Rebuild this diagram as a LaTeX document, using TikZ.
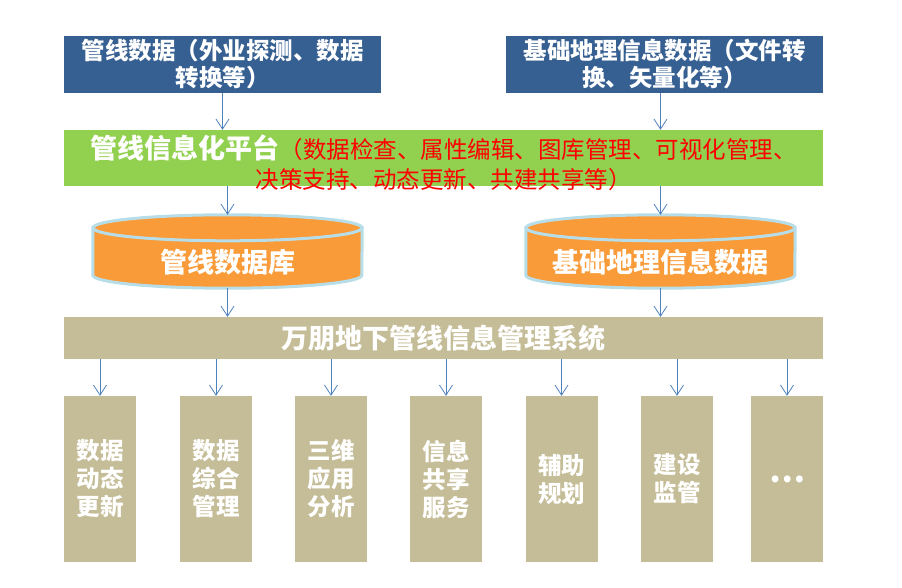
\documentclass[tikz,border=0pt]{standalone}
\usepackage{fontspec}
\setmainfont{Noto Sans CJK SC}
\usepackage{tikz}
\usetikzlibrary{arrows.meta,positioning,backgrounds}
\usepackage{xcolor}
\definecolor{srcblue}{RGB}{55,96,146}
\definecolor{platgreen}{RGB}{146,208,80}
\definecolor{systan}{RGB}{196,189,151}
\definecolor{dborange}{RGB}{249,155,56}
\definecolor{dbrim}{RGB}{183,221,232}
\definecolor{flowblue}{RGB}{79,129,189}

% cylinder drawn behind a named body node
\newcommand{\drawdb}[1]{%
  \begin{scope}[on background layer]
    \path[fill=dborange, draw=dbrim, line width=3pt]
      (#1.north west) -- ([yshift=13pt]#1.south west)
      arc[start angle=180, end angle=360, x radius=134.5pt, y radius=13pt]
      -- (#1.north east) -- cycle;
    \path[fill=dborange, draw=dbrim, line width=3pt]
      (#1.north) ellipse[x radius=134.5pt, y radius=13pt];
  \end{scope}}
% push a line down without changing its size
\newcommand{\lowerline}[1]{\raisebox{-4.5pt}[\height][\depth]{#1}}

\begin{document}
\begin{tikzpicture}[x=1pt, y=1pt,
    src/.style={fill=srcblue, text=white, minimum width=317pt, minimum height=57pt, align=center, inner sep=0pt, font=\fontsize{23.5}{27}\selectfont\bfseries},
    bar/.style={fill=#1, minimum width=759pt, align=center, inner sep=0pt},
    db/.style={minimum width=269pt, minimum height=60pt, inner sep=0pt, text height=31pt, text=white, font=\fontsize{27}{30}\selectfont\bfseries},
    func/.style={fill=systan, text=white, minimum width=72pt, minimum height=166pt, align=center, inner sep=0pt, font=\fontsize{23.5}{28}\selectfont\bfseries},
    flow/.style={draw=flowblue, line width=0.8pt, -{Straight Barb[length=10pt,width=13pt]}},
]
\useasboundingbox (0,0) rectangle (902,-587);

\node[src] (srcpipe) at (222.5,-64.5) {管线数据（外业探测、数据\\转换等）};
\node[src] (srcgeo) at (664.5,-64.5) {基础地理信息数据（文件转\\换、矢量化等）};

\node[bar=platgreen, minimum height=56pt, font=\fontsize{23.5}{30}\selectfont] (platform) at (443.5,-158)
  {\lowerline{{\fontsize{27}{30}\selectfont\bfseries\color{white}管线信息化平台}{\color{red}（数据检查、属性编辑、图库管理、可视化管理、}}\\\lowerline{\color{red}决策支持、动态更新、共建共享等）}};

\node[db] (pipedb) at (227.5,-258) {管线数据库};
\node[db] (geodb) at (660.5,-258) {基础地理信息数据};
\drawdb{pipedb}
\drawdb{geodb}

\node[bar=systan, minimum height=42pt, text=white, font=\fontsize{27}{30}\selectfont\bfseries] (system) at (443.5,-338) {万朋地下管线信息管理系统};

\node[func] (update) at (100,-479) {数据\\动态\\更新};
\node[func] (manage) at (216,-479) {数据\\综合\\管理};
\node[func] (analysis) at (331,-479) {三维\\应用\\分析};
\node[func] (share) at (446,-479) {信息\\共享\\服务};
\node[func] (plan) at (561.5,-479) {辅助\\规划};
\node[func] (supervise) at (677,-479) {建设\\监管};
\node[func, font=\fontsize{32}{32}\selectfont\bfseries] (more) at (787,-479) {…};

\draw[flow] (srcpipe.south) -- (srcpipe.south |- platform.north);
\draw[flow] (srcgeo.south -| geodb.north) -- (platform.north -| geodb.north);
\draw[flow] (platform.south -| pipedb.north) -- ([yshift=13pt]pipedb.north);
\draw[flow] (platform.south -| geodb.north) -- ([yshift=13pt]geodb.north);
\draw[flow] (pipedb.south) -- (pipedb.south |- system.north);
\draw[flow] (geodb.south) -- (geodb.south |- system.north);
\foreach \f in {update,manage,analysis,share,plan,supervise,more}
  \draw[flow] (system.south -| \f.north) -- (\f.north);
\end{tikzpicture}
\end{document}
